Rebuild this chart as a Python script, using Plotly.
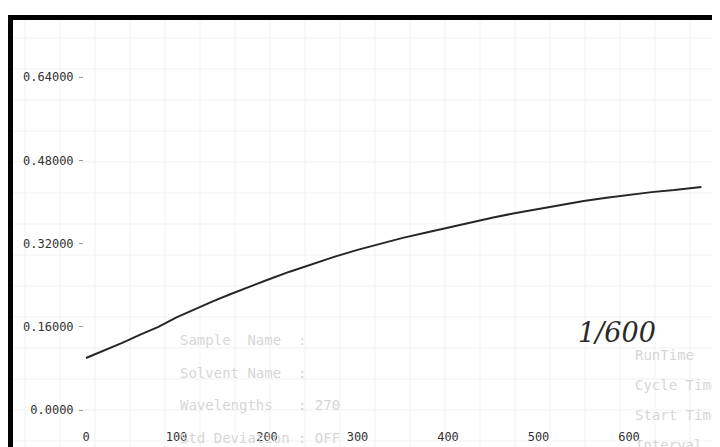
import plotly.graph_objects as go

# ---- data ----
time_s = [0, 20, 40, 60, 80, 100, 120, 140, 160, 180, 200, 225, 250, 275, 300,
          325, 350, 375, 400, 425, 450, 475, 500, 525, 550, 575, 600, 625, 650, 680]
absorbance = [0.100, 0.114, 0.129, 0.145, 0.160, 0.178, 0.194, 0.209, 0.223, 0.237,
              0.250, 0.266, 0.281, 0.295, 0.308, 0.320, 0.331, 0.341, 0.351, 0.361,
              0.370, 0.379, 0.387, 0.395, 0.402, 0.408, 0.414, 0.419, 0.423, 0.429]

y_tick_vals = [0.0, 0.16, 0.32, 0.48, 0.64]
y_tick_text = ["0.0000", "0.16000", "0.32000", "0.48000", "0.64000"]
x_tick_vals = [0, 100, 200, 300, 400, 500, 600]
x_tick_text = ["0", "100", "200", "300", "400", "500", "600"]

bg_text_left = ["Sample  Name  :", "Solvent Name  :", "Wavelengths   : 270", "Std Deviation : OFF"]
bg_text_right = ["RunTime", "Cycle Time", "Start Time", "Interval"]
note_text = "1/600"

# ---- geometry (screen pixels; the page body adds an 8px offset) ----
OFF = 8
SW, SH = 720, 447
W, H = SW - OFF, SH - OFF
S_LEFT, S_TOP = 84, 20                # screen px of plot-area left / top
ML, MR, MT, MB = S_LEFT - OFF, 0, S_TOP - OFF, 0
PW, PH = W - ML - MR, H - MT - MB
X0_PX, X_SCALE = 86, 0.905            # screen px of x=0, px per unit
Y0_PX, Y_SCALE = 410, 520.0           # screen px of y=0, px per unit

xmin = (S_LEFT - X0_PX) / X_SCALE
xmax = (SW - X0_PX) / X_SCALE
ymax = (Y0_PX - S_TOP) / Y_SCALE
ymin = -(SH - Y0_PX) / Y_SCALE


def px(xs):
    return (xs - S_LEFT) / PW


def py(ys):
    return (SH - ys) / PH


mono = "DejaVu Sans Mono"
fig = go.Figure()
fig.add_trace(go.Scatter(x=time_s, y=absorbance, mode="lines",
                         line=dict(color="#262626", width=2), hoverinfo="skip"))

shapes = []
# faint graph-paper grid
yy = 38
while yy < SH:
    shapes.append(dict(type="line", xref="paper", yref="paper", x0=px(13), x1=px(SW),
                       y0=py(yy), y1=py(yy), line=dict(color="#f1f1f1", width=1), layer="below"))
    yy += 31
xx = 25
while xx < SW:
    shapes.append(dict(type="line", xref="paper", yref="paper", x0=px(xx), x1=px(xx),
                       y0=py(SH), y1=py(20), line=dict(color="#f3f3f3", width=1), layer="below"))
    xx += 35
# black scan frame
shapes.append(dict(type="rect", xref="paper", yref="paper", x0=px(8), x1=px(SW + 2),
                   y0=py(20), y1=py(15), fillcolor="black", line=dict(width=0)))
shapes.append(dict(type="rect", xref="paper", yref="paper", x0=px(8), x1=px(13),
                   y0=py(SH + 2), y1=py(15), fillcolor="black", line=dict(width=0)))

annotations = []
for i, t in enumerate(bg_text_left):
    annotations.append(dict(text=t, xref="paper", yref="paper", x=px(178), y=py(340 + 32.5 * i),
                            xanchor="left", yanchor="middle", showarrow=False,
                            font=dict(family=mono, size=14, color="#d6d6d6")))
for i, t in enumerate(bg_text_right):
    annotations.append(dict(text=t, xref="paper", yref="paper", x=px(633), y=py(355 + 30 * i),
                            xanchor="left", yanchor="middle", showarrow=False,
                            font=dict(family=mono, size=14, color="#d6d6d6")))
annotations.append(dict(text="<i>" + note_text + "</i>", xref="paper", yref="paper",
                        x=px(617), y=py(333), xanchor="center", yanchor="middle", showarrow=False,
                        font=dict(family="DejaVu Serif", size=27, color="#2a2a2a")))

fig.update_layout(
    width=W, height=H,
    margin=dict(l=ML, r=MR, t=MT, b=MB, pad=0),
    paper_bgcolor="white", plot_bgcolor="rgba(0,0,0,0)",
    showlegend=False,
    shapes=shapes, annotations=annotations,
    xaxis=dict(range=[xmin, xmax], tickvals=x_tick_vals, ticktext=x_tick_text,
               showgrid=False, zeroline=False, showline=False,
               ticks="", anchor="free", position=(0 - ymin) / (ymax - ymin),
               ticklabelstandoff=18,
               tickfont=dict(family=mono, size=12, color="#333")),
    yaxis=dict(range=[ymin, ymax], tickvals=y_tick_vals, ticktext=y_tick_text,
               showgrid=False, zeroline=False, showline=False,
               ticks="outside", ticklen=4, tickcolor="#999", ticklabelstandoff=3,
               tickfont=dict(family=mono, size=12, color="#333")),
)

fig.write_html("out.html")
